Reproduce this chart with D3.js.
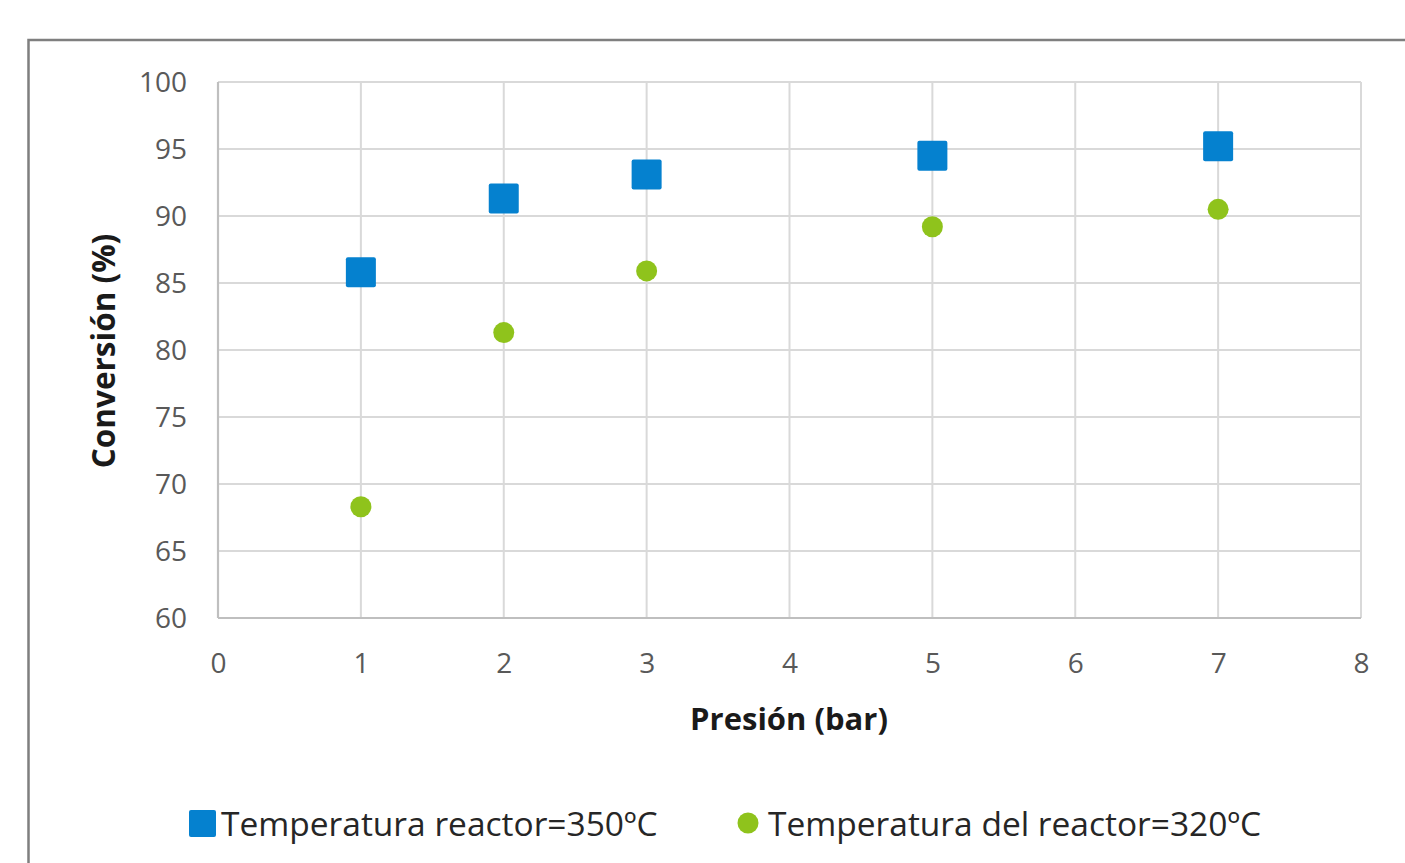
<!DOCTYPE html>
<html>
<head>
<meta charset="utf-8">
<script src="https://cdn.jsdelivr.net/npm/d3@7"></script>
<style>
  html, body { margin: 0; padding: 0; background: #fff; }
  svg { display: block; }
</style>
</head>
<body>
<svg id="chart" width="1405" height="863"></svg>
<script>
// Pressure (bar) and conversion (%) for two reactor temperatures
const pressures = [1, 2, 3, 5, 7];
const conv350 = [85.8, 91.3, 93.1, 94.5, 95.2];
const conv320 = [68.3, 81.3, 85.9, 89.2, 90.5];
const xTicks = [0, 1, 2, 3, 4, 5, 6, 7, 8];
const yTicks = [60, 65, 70, 75, 80, 85, 90, 95, 100];
const seriesNames = ["Temperatura reactor=350ºC", "Temperatura del reactor=320ºC"];

const FONT = "'Open Sans', 'Noto Sans', sans-serif";
const BLUE = "#0581cf";
const GREEN = "#8fc31c";

const svg = d3.select("#chart");

// Chart frame, running past the right and bottom edges
svg.append("rect")
  .attr("x", 28.5).attr("y", 40)
  .attr("width", 1420).attr("height", 860)
  .attr("fill", "#fff")
  .attr("stroke", "#7f7f7f")
  .attr("stroke-width", 2.5);

const x = d3.scaleLinear().domain([0, 8]).range([218, 1361]);
const y = d3.scaleLinear().domain([60, 100]).range([618, 82]);

// Grid
const grid = svg.append("g");
grid.selectAll("line.v").data(xTicks).join("line")
  .attr("x1", d => x(d)).attr("x2", d => x(d))
  .attr("y1", y(100)).attr("y2", y(60))
  .attr("stroke", "#d9d9d9").attr("stroke-width", 2);
grid.selectAll("line.h").data(yTicks).join("line")
  .attr("x1", x(0)).attr("x2", x(8))
  .attr("y1", d => y(d)).attr("y2", d => y(d))
  .attr("stroke", "#d9d9d9").attr("stroke-width", 2);

// Axis lines
svg.append("line")
  .attr("x1", x(0)).attr("x2", x(8)).attr("y1", y(60)).attr("y2", y(60))
  .attr("stroke", "#bfbfbf").attr("stroke-width", 2.2);
svg.append("line")
  .attr("x1", x(0)).attr("x2", x(0)).attr("y1", y(100)).attr("y2", y(60))
  .attr("stroke", "#bfbfbf").attr("stroke-width", 2.2);

// Axes (labels only)
const xAxis = svg.append("g")
  .attr("transform", `translate(0,${y(60)})`)
  .call(d3.axisBottom(x).tickValues(xTicks).tickSize(0).tickFormat(d3.format("d")));
const yAxis = svg.append("g")
  .attr("transform", `translate(${x(0)},0)`)
  .call(d3.axisLeft(y).tickValues(yTicks).tickSize(0).tickPadding(31).tickFormat(d3.format("d")));
[xAxis, yAxis].forEach(g => {
  g.select(".domain").remove();
  g.selectAll("text")
    .attr("font-family", FONT).attr("font-size", 28)
    .attr("fill", "#595959");
});
yAxis.selectAll("text").attr("dy", "0.35em");
xAxis.selectAll("text").attr("dy", "0.35em").attr("y", 45);

// Axis titles
svg.append("text")
  .attr("x", 789).attr("y", 730)
  .attr("text-anchor", "middle")
  .attr("font-family", FONT).attr("font-size", 31).attr("font-weight", "bold")
  .attr("fill", "#1a1a1a")
  .text("Presión (bar)");
svg.append("text")
  .attr("transform", "translate(115,351) rotate(-90)")
  .attr("text-anchor", "middle")
  .attr("font-family", FONT).attr("font-size", 31.5).attr("font-weight", "bold")
  .attr("fill", "#1a1a1a")
  .text("Conversión (%)");

// Series: squares at 350ºC
const sq = 30;
svg.append("g").selectAll("rect").data(pressures.map((p, i) => [p, conv350[i]])).join("rect")
  .attr("x", d => x(d[0]) - sq / 2).attr("y", d => y(d[1]) - sq / 2)
  .attr("width", sq).attr("height", sq).attr("rx", 2)
  .attr("fill", BLUE);

// Series: circles at 320ºC
svg.append("g").selectAll("circle").data(pressures.map((p, i) => [p, conv320[i]])).join("circle")
  .attr("cx", d => x(d[0])).attr("cy", d => y(d[1]))
  .attr("r", 10.5)
  .attr("fill", GREEN);

// Legend
const legend = svg.append("g");
legend.append("rect")
  .attr("x", 189).attr("y", 810).attr("width", 27).attr("height", 27).attr("rx", 2)
  .attr("fill", BLUE);
legend.append("text")
  .attr("x", 221).attr("y", 836)
  .attr("font-family", FONT).attr("font-size", 33.5)
  .attr("fill", "#262626")
  .text(seriesNames[0]);
legend.append("circle")
  .attr("cx", 748).attr("cy", 823).attr("r", 10.5)
  .attr("fill", GREEN);
legend.append("text")
  .attr("x", 768).attr("y", 836)
  .attr("font-family", FONT).attr("font-size", 33.5)
  .attr("fill", "#262626")
  .text(seriesNames[1]);
</script>
</body>
</html>
